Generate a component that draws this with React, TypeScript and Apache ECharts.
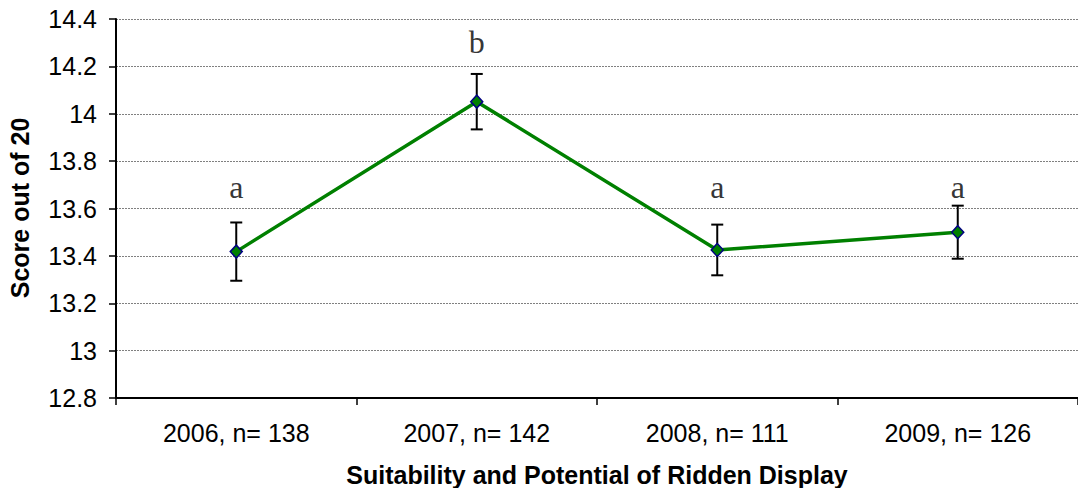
import React, { useEffect, useRef } from "react";
import * as echarts from "echarts";

const categories = ["2006, n= 138", "2007, n= 142", "2008, n= 111", "2009, n= 126"];
const means = [13.418, 14.051, 13.425, 13.5];
const errors = [0.123, 0.117, 0.107, 0.112];
const letters = ["a", "b", "a", "a"];
const letterY = [13.692, 14.304, 13.692, 13.692];
const yTicks = { min: 12.8, max: 14.4, interval: 0.2 };
const xTitle = "Suitability and Potential of Ridden Display";
const yTitle = "Score out of 20";

export default function App() {
  const ref = useRef<HTMLDivElement>(null);
  useEffect(() => {
    if (!ref.current) return;
    const chart = echarts.init(ref.current, null, { renderer: "svg" });
    const sans = "'Liberation Sans', Arial, sans-serif";
    chart.setOption({
      animation: false,
      backgroundColor: "#ffffff",
      grid: { left: 116, top: 19, width: 967, height: 379, containLabel: false },
      xAxis: {
        type: "category",
        data: categories,
        boundaryGap: true,
        axisLine: { lineStyle: { color: "#000", width: 2 } },
        axisTick: { show: true, length: 7, lineStyle: { color: "#000", width: 1.5 } },
        axisLabel: { color: "#000", fontFamily: sans, fontSize: 25, margin: 22 },
        splitLine: { show: false },
      },
      yAxis: {
        type: "value",
        min: yTicks.min,
        max: yTicks.max,
        interval: yTicks.interval,
        axisLine: { show: true, lineStyle: { color: "#000", width: 2 } },
        axisTick: { show: true, length: 7, inside: false, lineStyle: { color: "#000", width: 1.5 } },
        axisLabel: {
          color: "#000",
          fontFamily: sans,
          fontSize: 25,
          margin: 19,
          formatter: (v: number) => String(Math.round(v * 10) / 10),
        },
        splitLine: { show: true, lineStyle: { color: "#808080", width: 1, type: [2, 1] } },
      },
      graphic: [
        {
          type: "text",
          x: 597,
          y: 475,
          style: {
            text: xTitle,
            font: `bold 25px ${sans}`,
            fill: "#000",
            align: "center",
            verticalAlign: "middle",
          },
        },
        {
          type: "text",
          x: 20,
          y: 208,
          rotation: Math.PI / 2,
          style: {
            text: yTitle,
            font: `bold 25px ${sans}`,
            fill: "#000",
            align: "center",
            verticalAlign: "middle",
          },
        },
      ],
      series: [
        {
          type: "custom",
          z: 1,
          data: means.map((m, i) => [i, m - errors[i], m + errors[i]]),
          renderItem: (params: any, api: any) => {
            const x = api.value(0);
            const lo = api.coord([x, api.value(1)]);
            const hi = api.coord([x, api.value(2)]);
            const hw = 6;
            const style = { stroke: "#000", lineWidth: 2 };
            return {
              type: "group",
              children: [
                { type: "line", shape: { x1: lo[0], y1: lo[1], x2: hi[0], y2: hi[1] }, style },
                { type: "line", shape: { x1: lo[0] - hw, y1: lo[1], x2: lo[0] + hw, y2: lo[1] }, style },
                { type: "line", shape: { x1: hi[0] - hw, y1: hi[1], x2: hi[0] + hw, y2: hi[1] }, style },
              ],
            };
          },
        },
        {
          type: "line",
          z: 3,
          data: means,
          symbol: "diamond",
          symbolSize: [12, 13],
          lineStyle: { color: "#008000", width: 3.5 },
          itemStyle: { color: "#008000", borderColor: "#000080", borderWidth: 1.5 },
        },
        {
          type: "scatter",
          z: 4,
          data: letterY.map((y, i) => [i, y]),
          symbolSize: 0,
          itemStyle: { color: "transparent" },
          label: {
            show: true,
            position: "inside",
            formatter: (p: any) => letters[p.dataIndex],
            fontFamily: "'Liberation Serif', 'Times New Roman', serif",
            fontSize: 32,
            color: "#000",
            textBorderWidth: 0,
            textBorderColor: "transparent",
          },
        },
      ],
    });
    return () => chart.dispose();
  }, []);
  return (
    <div
      ref={ref}
      style={{ position: "fixed", left: 0, top: 0, width: 1078, height: 488, background: "#fff" }}
    />
  );
}
